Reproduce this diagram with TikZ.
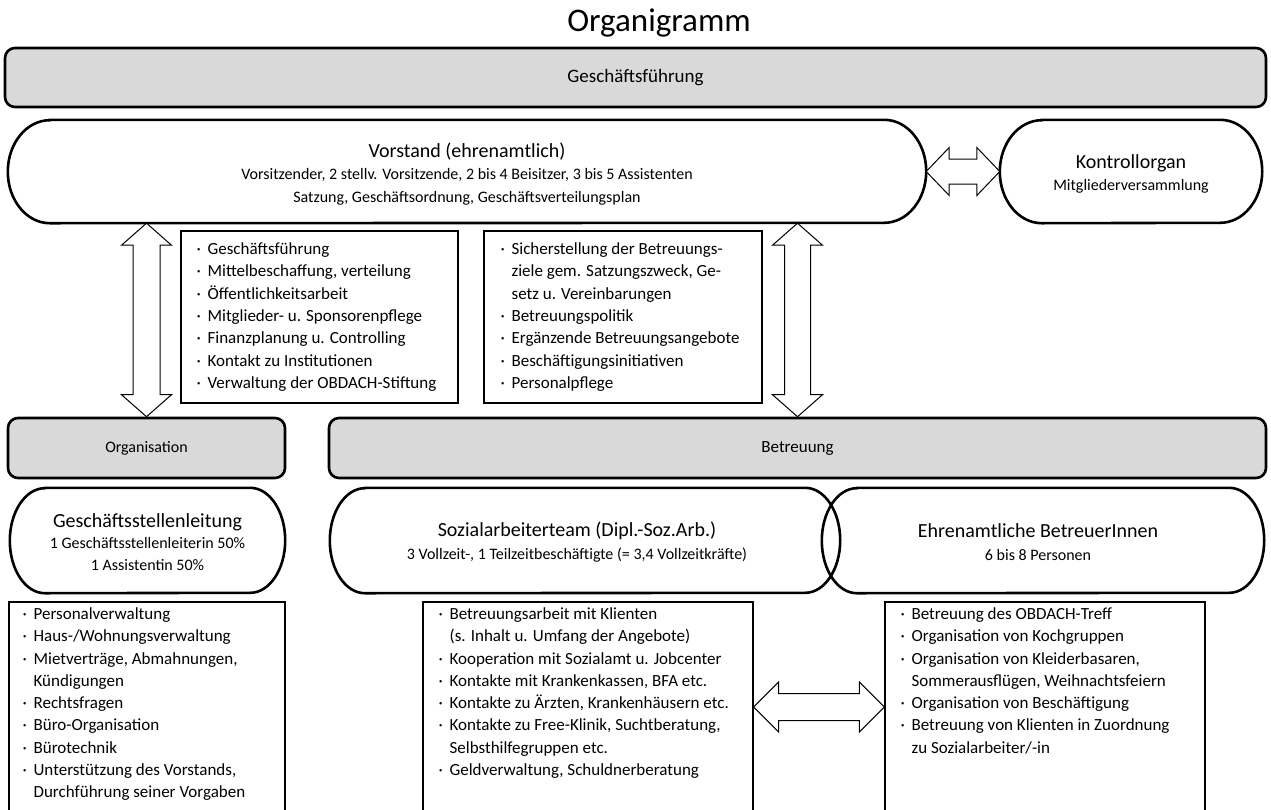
\documentclass[tikz,border=0pt]{standalone}
\usepackage{fontspec}
\setmainfont{Carlito}
\usetikzlibrary{calc}

\newcommand\itm{\makebox[11pt][l]{·}}
\newcommand\cnt{\hspace*{11pt}}
\newcommand\ovalline[3]{%
  \draw[line width=2.6pt] ([xshift=#2]#1.north west) -- ([xshift=-#2]#1.north east)
    arc[start angle=90,end angle=-90,x radius=#2,y radius=#3]
    -- ([xshift=#2]#1.south west)
    arc[start angle=270,end angle=90,x radius=#2,y radius=#3] -- cycle;}
\newcommand\vdbl[5]{%
  \draw[blockarrow] (#1) -- ++(#4,#3) -- ++({#5-#4},0) -- ($(#2)+(#5,-#3)$) -- ++({#4-#5},0) -- (#2)
    -- ++(-#4,-#3) -- ++({#4-#5},0) -- ($(#1)+(-#5,#3)$) -- ++({#5-#4},0) -- cycle;}
\newcommand\hdbl[5]{%
  \draw[blockarrow] (#1) -- ++(#3,-#4) -- ++(0,{#4-#5}) -- ($(#2)+(-#3,-#5)$) -- ++(0,{#5-#4}) -- (#2)
    -- ++(-#3,#4) -- ++(0,{#5-#4}) -- ($(#1)+(#3,#5)$) -- ++(0,{#4-#5}) -- cycle;}
\newcommand\headfont{\fontsize{20}{22}\selectfont}

\begin{document}
\begin{tikzpicture}[x=1pt,y=-1pt,
   graybox/.style={draw,line width=2.6pt,fill=black!15,rounded corners=10pt,inner sep=0pt},
   ovalbox/.style={inner sep=0pt},
   ovaltext/.style={align=center,inner sep=0pt,font=\fontsize{16}{22.5}\selectfont},
   listbox/.style={draw,line width=1.2pt,inner sep=0pt},
   listtext/.style={align=left,inner sep=0pt,font=\fontsize{17}{22.3}\selectfont},
   blockarrow/.style={draw,line width=1pt,fill=white,line join=miter}]

\useasboundingbox (0,0) rectangle (1271,809);

\node[font=\fontsize{33}{35}\selectfont] (title) at (659,23) {Organigramm};
\node[graybox,minimum width=1261pt,minimum height=59pt,font=\fontsize{19}{21}\selectfont] (gf) at (635.5,77.5) {Geschäftsführung};

\node[ovalbox,minimum width=918pt,minimum height=103pt] (vorstand) at (467,171.5) {};
\node[ovaltext] (vorstandtxt) at (467,174)
  {{\headfont Vorstand (ehrenamtlich)}\\
   Vorsitzender, 2 stellv. Vorsitzende, 2 bis 4 Beisitzer, 3 bis 5 Assistenten\\
   Satzung, Geschäftsordnung, Geschäftsverteilungsplan};
\node[ovalbox,minimum width=262pt,minimum height=103pt] (kontroll) at (1131,171.5) {};
\node[ovaltext] (kontrolltxt) at (1131,174) {{\headfont Kontrollorgan}\\ Mitgliederversammlung};
\ovalline{vorstand}{42pt}{51.5pt}
\ovalline{kontroll}{42pt}{51.5pt}

\node[listbox,minimum width=277pt,minimum height=172pt] (vaufgaben) at (319.5,317) {};
\node[listtext,anchor=west] (vaufgabentxt) at ([xshift=16pt]vaufgaben.west)
  {\itm Geschäftsführung\\
   \itm Mittelbeschaffung, verteilung\\
   \itm Öffentlichkeitsarbeit\\
   \itm Mitglieder- u. Sponsorenpflege\\
   \itm Finanzplanung u. Controlling\\
   \itm Kontakt zu Institutionen\\
   \itm Verwaltung der OBDACH-Stiftung};
\node[listbox,minimum width=278pt,minimum height=172pt] (baufgaben) at (623,317) {};
\node[listtext,anchor=west] (baufgabentxt) at ([xshift=17pt]baufgaben.west)
  {\itm Sicherstellung der Betreuungs-\\
   \cnt ziele gem. Satzungszweck, Ge-\\
   \cnt setz u. Vereinbarungen\\
   \itm Betreuungspolitik\\
   \itm Ergänzende Betreuungsangebote\\
   \itm Beschäftigungsinitiativen\\
   \itm Personalpflege};

\node[graybox,minimum width=277pt,minimum height=60pt,font=\fontsize{16}{20}\selectfont] (organisation) at (146.5,448) {Organisation};
\node[graybox,minimum width=937pt,minimum height=60pt,font=\fontsize{17}{20}\selectfont] (betreuung) at (797.5,448) {Betreuung};

\coordinate (ltop) at (organisation.north |- vorstand.south);
\coordinate (rtop) at (betreuung.north |- vorstand.south);
\vdbl{ltop}{organisation.north}{22}{25}{13.5}
\vdbl{rtop}{betreuung.north}{22}{25}{13}
\hdbl{vorstand.east}{kontroll.west}{23}{24}{12.5}

\node[ovalbox,minimum width=275pt,minimum height=105pt] (gsl) at (147.5,540.5) {};
\node[ovaltext,font=\fontsize{16}{21.5}\selectfont] (gsltxt) at (147.5,542)
  {{\headfont Geschäftsstellenleitung}\\ 1 Geschäftsstellenleiterin 50\%\\ 1 Assistentin 50\%};
\node[ovalbox,minimum width=510pt,minimum height=105pt] (sozial) at (585,540.5) {};
\node[ovaltext] (sozialtxt) at (577,542)
  {{\headfont Sozialarbeiterteam (Dipl.-Soz.Arb.)}\\ 3 Vollzeit-, 1 Teilzeitbeschäftigte (= 3,4 Vollzeitkräfte)};
\node[ovalbox,minimum width=442pt,minimum height=105pt] (ehren) at (1043,540.5) {};
\node[ovaltext] (ehrentxt) at (1038,542)
  {{\headfont Ehrenamtliche BetreuerInnen}\\ 6 bis 8 Personen};
\ovalline{gsl}{35pt}{52.5pt}
\ovalline{sozial}{35pt}{52.5pt}
\ovalline{ehren}{35pt}{52.5pt}

\node[listbox,minimum width=276pt,minimum height=210pt] (oaufgaben) at (147,707) {};
\node[listtext,anchor=north west] (oaufgabentxt) at ([xshift=14pt,yshift=-6pt]oaufgaben.north west)
  {\itm Personalverwaltung\\
   \itm Haus-/Wohnungsverwaltung\\
   \itm Mietverträge, Abmahnungen,\\
   \cnt Kündigungen\\
   \itm Rechtsfragen\\
   \itm Büro-Organisation\\
   \itm Bürotechnik\\
   \itm Unterstützung des Vorstands,\\
   \cnt Durchführung seiner Vorgaben};
\node[listbox,minimum width=330pt,minimum height=210pt] (saufgaben) at (588,707) {};
\node[listtext,anchor=north west] (saufgabentxt) at ([xshift=16pt,yshift=-6pt]saufgaben.north west)
  {\itm Betreuungsarbeit mit Klienten\\
   \cnt (s. Inhalt u. Umfang der Angebote)\\
   \itm Kooperation mit Sozialamt u. Jobcenter\\
   \itm Kontakte mit Krankenkassen, BFA etc.\\
   \itm Kontakte zu Ärzten, Krankenhäusern etc.\\
   \itm Kontakte zu Free-Klinik, Suchtberatung,\\
   \cnt Selbsthilfegruppen etc.\\
   \itm Geldverwaltung, Schuldnerberatung};
\node[listbox,minimum width=320pt,minimum height=210pt] (eaufgaben) at (1045,707) {};
\node[listtext,anchor=north west] (eaufgabentxt) at ([xshift=16pt,yshift=-6pt]eaufgaben.north west)
  {\itm Betreuung des OBDACH-Treff\\
   \itm Organisation von Kochgruppen\\
   \itm Organisation von Kleiderbasaren,\\
   \cnt Sommerausflügen, Weihnachtsfeiern\\
   \itm Organisation von Beschäftigung\\
   \itm Betreuung von Klienten in Zuordnung\\
   \cnt zu Sozialarbeiter/-in};
\hdbl{saufgaben.east}{eaufgaben.west}{25}{25}{13.5}
\end{tikzpicture}
\end{document}
